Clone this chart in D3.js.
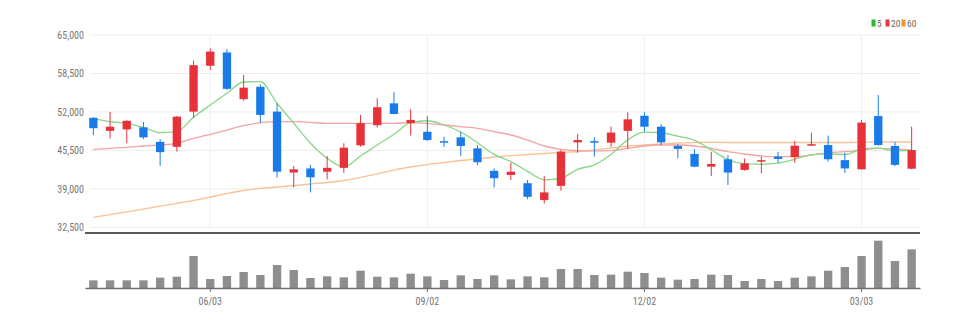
<!DOCTYPE html>
<html><head><meta charset="utf-8">
<script src="https://cdn.jsdelivr.net/npm/d3@7"></script>
<style>body{margin:0;background:#fff}svg{display:block}text{font-family:"Liberation Sans Narrow","Roboto Condensed","Liberation Sans",Arial,sans-serif}</style>
</head><body><div id="chart"></div>
<script>
const dates = ["04/15","04/22","04/29","05/06","05/13","05/20","05/27","06/03","06/10","06/17",
"06/24","07/01","07/08","07/15","07/22","07/29","08/05","08/12","08/19","08/26",
"09/02","09/09","09/16","09/23","09/30","10/07","10/14","10/21","10/28","11/04",
"11/11","11/18","11/25","12/02","12/09","12/16","12/23","12/30","01/06","01/13",
"01/20","01/27","02/03","02/10","02/17","02/24","03/03","03/10","03/17","03/24"];
const openP  = [51000,48800,49050,49400,46950,46100,52050,59800,62050,54150,
56250,52050,41750,42450,41900,42550,46350,49750,53450,50100,
48650,47050,47700,45850,42050,41350,39950,37100,39500,46850,
47050,46800,48800,51350,49500,46250,44900,42750,44000,42200,
43600,44450,44350,46300,46400,43850,42300,51300,46250,42400];
const highP  = [51100,52000,50600,50300,47400,51300,60650,62750,62600,58250,
56650,53450,42850,43050,44550,46700,51500,54300,55400,52450,
51300,47800,48650,46400,42450,43400,40500,41150,45550,48250,
47700,49500,51950,51950,49950,46550,45700,45250,44700,44150,
44400,45250,47100,48500,48000,45100,50650,54850,46950,49500];
const lowP   = [48100,47500,46700,47400,42900,45300,51000,59100,55700,53900,
50100,40900,39250,38400,40600,41700,46100,49350,51600,48000,
47100,46100,44550,43000,39250,40500,37250,36550,38700,45100,
44450,46100,45700,48650,46400,44150,42650,41150,39650,42050,
41600,43400,43400,46250,43600,41700,42250,46300,42850,42300];
const closeP = [49250,49500,50500,47700,45200,51200,59900,62200,55900,56100,
51500,41900,42300,40950,42550,45950,50100,52800,51650,50650,
47250,46850,46250,43500,40800,41900,37650,38400,45300,47250,
46800,48500,50750,49500,46850,45750,42750,43200,41750,43300,
43850,44050,46300,46550,44000,42450,50200,46400,43050,45550];
const ma5  = [50920,50350,50080,49400,48490,48660,51090,53170,55150,57060,
57120,53460,50080,46700,44160,42690,44550,46410,48220,50180,
50510,49790,48600,46800,44820,43600,41960,40530,40790,42300,
43050,44800,47300,48600,48480,47900,47200,45600,43950,43250,
43150,43350,44000,44750,44900,44800,45700,45880,45400,45550];
const ma20 = [45680,45850,46020,46240,46410,46700,47540,48220,48940,49670,
50180,50350,50350,50250,50080,50080,50080,50080,50080,50180,
50080,49790,49510,49230,48660,48100,47250,46240,45680,45450,
45400,45450,45850,46240,46410,46410,46240,45850,45280,44890,
44550,44430,44430,44720,45110,45280,45560,45850,45730,45560];
const ma60 = [34190,34660,35120,35590,36070,36560,37060,37620,38210,38720,
39090,39310,39560,39820,40070,40410,40920,41510,42180,42690,
43110,43450,43790,44040,44380,44630,44800,44970,45140,45310,
45560,45900,46240,46410,46580,46750,46830,46870,46830,46830,
46830,46830,46830,46830,46830,46830,46870,46920,46920,46920];
const volume = [230,230,230,230,310,340,960,270,360,480,
390,690,540,300,350,320,520,340,320,430,
350,240,380,270,380,260,350,320,570,570,
390,400,490,450,310,250,270,400,390,210,
270,210,310,350,520,630,960,1420,810,1160];
const priceTicks = [32500,39000,45500,52000,58500,65000];
const dateTicks = ["06/03","09/02","12/02","03/03"];
const legendNames = ["5","20","60"];

const W=980,H=324;
const colUp="#e8323a", colDown="#1a7be8";
const maColors=["#86d886","#f5a3a3","#f8c295"];
const legColors=["#2bb92b","#e83a3a","#f2952f"];

const svg=d3.select("#chart").append("svg").attr("width",W).attr("height",H);
svg.append("rect").attr("width",W).attr("height",H).attr("fill","#fff");

const x=d3.scaleBand().domain(dates).range([85,920]).paddingInner(0).paddingOuter(0);
const cx=d=>x(d)+x.bandwidth()/2;
const bw=x.bandwidth()*0.5;
const y=d3.scaleLinear().domain([32500,65000]).range([227.3,35]);
const yv=d3.scaleLinear().domain([0,1420]).range([288,240.7]);

// gridlines
const grid=svg.append("g");
grid.selectAll("line.h").data(priceTicks).join("line")
  .attr("x1",90).attr("x2",920).attr("y1",d=>y(d)).attr("y2",d=>y(d))
  .attr("stroke","#ededed").attr("stroke-width",1);
grid.selectAll("line.v").data(dateTicks).join("line")
  .attr("x1",d=>cx(d)).attr("x2",d=>cx(d)).attr("y1",y(65000)).attr("y2",y(32500))
  .attr("stroke","#efefef").attr("stroke-width",1);

// y axis labels
const yAxis=d3.axisLeft(y).tickValues(priceTicks).tickFormat(d3.format(",")).tickSize(0).tickPadding(0);
const yg=svg.append("g").attr("transform","translate(84,0)").call(yAxis);
yg.select(".domain").remove();
yg.selectAll("text").attr("fill","#777").style("font-size","10px");

// MA lines
const data=dates.map((d,i)=>({d,o:openP[i],h:highP[i],l:lowP[i],c:closeP[i],v:volume[i],m:[ma5[i],ma20[i],ma60[i]]}));
[2,1,0].forEach(k=>{
  svg.append("path").datum(data)
    .attr("d",d3.line().x(p=>cx(p.d)).y(p=>y(p.m[k])).curve(d3.curveMonotoneX))
    .attr("fill","none").attr("stroke",maColors[k]).attr("stroke-width",1.3);
});

// candles
const cg=svg.append("g");
const cand=cg.selectAll("g").data(data).join("g");
cand.append("line")
  .attr("x1",p=>cx(p.d)).attr("x2",p=>cx(p.d))
  .attr("y1",p=>y(p.h)).attr("y2",p=>y(p.l))
  .attr("stroke",p=>p.c>=p.o?colUp:colDown).attr("stroke-width",1);
cand.append("rect")
  .attr("x",p=>cx(p.d)-bw/2).attr("width",bw)
  .attr("y",p=>y(Math.max(p.o,p.c)))
  .attr("height",p=>Math.max(1.5,Math.abs(y(p.o)-y(p.c))))
  .attr("fill",p=>p.c>=p.o?colUp:colDown);

// price panel bottom line
svg.append("line").attr("x1",85).attr("x2",920).attr("y1",233).attr("y2",233)
  .attr("stroke","#222").attr("stroke-width",1.6);

// volume bars
svg.append("g").selectAll("rect").data(data).join("rect")
  .attr("x",p=>cx(p.d)-bw/2).attr("width",bw)
  .attr("y",p=>yv(p.v)).attr("height",p=>yv(0)-yv(p.v))
  .attr("fill","#8e8e8e");

// x axis
const xAxis=d3.axisBottom(x).tickValues(dateTicks).tickSizeInner(4).tickSizeOuter(0).tickPadding(6);
const xg=svg.append("g").attr("transform","translate(0,288)").call(xAxis);
xg.select(".domain").attr("stroke","#6e6e6e").attr("stroke-width",1.6);
xg.selectAll(".tick line").attr("stroke","#6e6e6e");
xg.selectAll("text").attr("fill","#777").style("font-size","10px");

// legend
const lg=svg.append("g");
const lx=[871.5,885.5,901.5];
legendNames.forEach((n,i)=>{
  lg.append("rect").attr("x",lx[i]).attr("y",19.5).attr("width",4).attr("height",7).attr("fill",legColors[i]);
  lg.append("text").attr("x",lx[i]+5.5).attr("y",26.5).text(n).attr("fill","#666").style("font-size","9.5px");
});
</script></body></html>
